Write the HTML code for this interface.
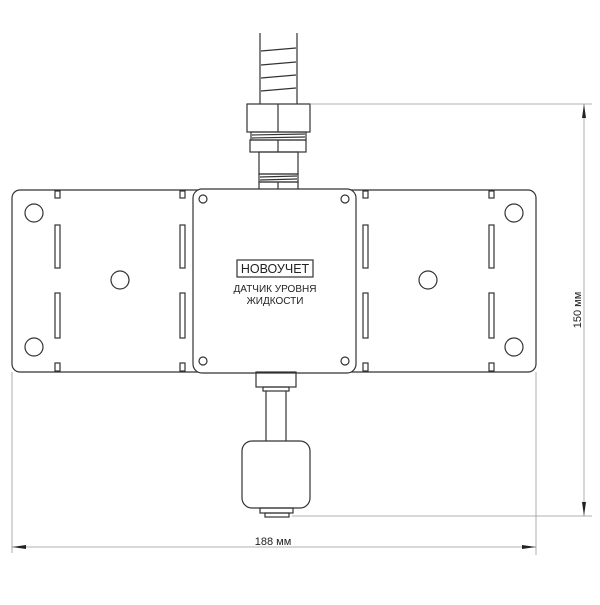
<!DOCTYPE html>
<html><head><meta charset="utf-8"><style>body{margin:0;background:#fff}</style></head><body>
<svg width="600" height="600" viewBox="0 0 600 600" xmlns="http://www.w3.org/2000/svg" font-family="Liberation Sans, sans-serif">
<g fill="none" stroke="#333" stroke-width="1.2">
<line x1="260" y1="33" x2="260" y2="104"/><line x1="297" y1="33" x2="297" y2="104"/>
<line x1="261" y1="51" x2="296" y2="48"/><line x1="261" y1="65" x2="296" y2="62"/><line x1="261" y1="78" x2="296" y2="75"/><line x1="261" y1="91" x2="296" y2="88"/>
<rect x="247" y="104" width="63" height="28" fill="#fff"/><line x1="278" y1="104" x2="278" y2="132"/>
<rect x="251" y="132" width="55" height="8"/><line x1="252" y1="135" x2="305" y2="134"/><line x1="252" y1="138" x2="305" y2="137"/>
<rect x="250" y="140" width="56" height="12"/><line x1="278" y1="140" x2="278" y2="152"/>
<rect x="259" y="152" width="39" height="22"/>
<rect x="259" y="174" width="39" height="8"/><line x1="260" y1="177" x2="297" y2="176"/><line x1="260" y1="180" x2="297" y2="179"/>
<rect x="259" y="182" width="39" height="8"/><line x1="278" y1="182" x2="278" y2="190"/>
<rect x="12" y="190" width="524" height="182" rx="8"/>
<rect x="193" y="189" width="163" height="184" rx="9" fill="#fff"/>
<circle cx="203" cy="199" r="4"/><circle cx="345" cy="199" r="4"/><circle cx="203" cy="361" r="4"/><circle cx="345" cy="361" r="4"/>
<circle cx="34" cy="213" r="9"/><circle cx="34" cy="347" r="9"/><circle cx="120" cy="280" r="9"/>
<circle cx="514" cy="213" r="9"/><circle cx="514" cy="347" r="9"/><circle cx="428" cy="280" r="9"/>
<g>
<rect x="55" y="191" width="5" height="7"/><rect x="55" y="225" width="5" height="43"/><rect x="55" y="293" width="5" height="45"/><rect x="55" y="363" width="5" height="8"/>
<rect x="180" y="191" width="5" height="7"/><rect x="180" y="225" width="5" height="43"/><rect x="180" y="293" width="5" height="45"/><rect x="180" y="363" width="5" height="8"/>
<rect x="363" y="191" width="5" height="7"/><rect x="363" y="225" width="5" height="43"/><rect x="363" y="293" width="5" height="45"/><rect x="363" y="363" width="5" height="8"/>
<rect x="489" y="191" width="5" height="7"/><rect x="489" y="225" width="5" height="43"/><rect x="489" y="293" width="5" height="45"/><rect x="489" y="363" width="5" height="8"/>
</g>
<rect x="237" y="260" width="76" height="17"/>
<rect x="256" y="372" width="40" height="15"/>
<rect x="263" y="387" width="26" height="4"/>
<line x1="266" y1="391" x2="266" y2="441"/><line x1="286" y1="391" x2="286" y2="441"/>
<rect x="242" y="441" width="68" height="67" rx="10"/>
<rect x="260" y="508" width="33" height="5"/>
<rect x="265" y="513" width="24" height="4"/>
</g>
<g stroke="#999" stroke-width="0.8">
<line x1="310" y1="104" x2="592" y2="104"/><line x1="292" y1="516" x2="592" y2="516"/>
<line x1="584" y1="104" x2="584" y2="516"/>
<line x1="12" y1="372" x2="12" y2="553"/><line x1="536" y1="372" x2="536" y2="555"/>
<line x1="12" y1="547" x2="536" y2="547"/>
</g>
<g fill="#222">
<polygon points="584,104 582,118 586,118"/><polygon points="584,516 582,502 586,502"/>
<polygon points="12,547 26,545 26,549"/><polygon points="536,547 522,545 522,549"/>
</g>
<g fill="#222" text-anchor="middle">
<text x="275" y="273" font-size="12.5">НОВОУЧЕТ</text>
<text x="275" y="292" font-size="10">ДАТЧИК УРОВНЯ</text>
<text x="275" y="304" font-size="10">ЖИДКОСТИ</text>
<text x="273" y="545" font-size="11">188 мм</text>
<text transform="translate(581,310) rotate(-90)" font-size="11">150 мм</text>
</g>
</svg>
</body></html>
